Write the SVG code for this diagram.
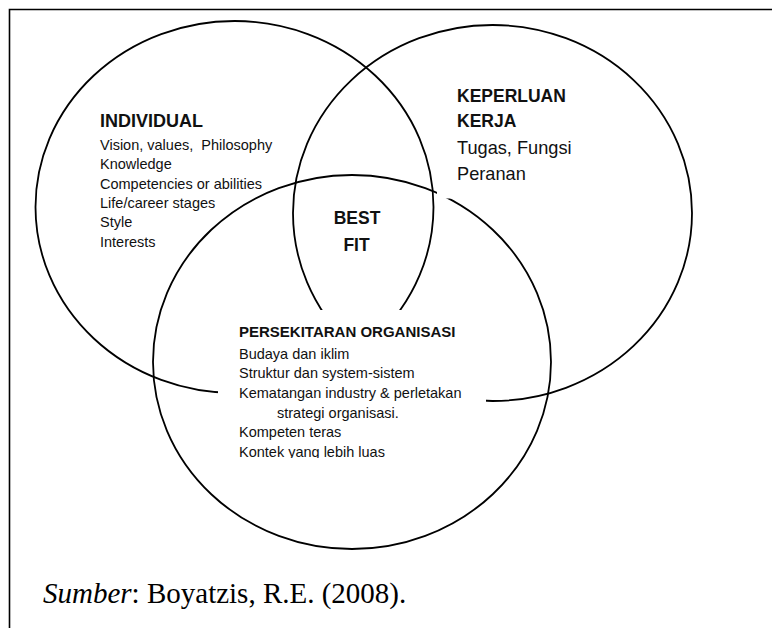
<svg xmlns="http://www.w3.org/2000/svg" width="772" height="628" viewBox="0 0 772 628">
<style>
.ell{fill:none;stroke:#000;stroke-width:1.8}
.box{fill:#fff;stroke:none}
.frame{fill:none;stroke:#000;stroke-width:1.6}
text{font-family:"Liberation Sans",Arial,sans-serif;fill:#111;white-space:pre}
.h{font-weight:bold}
.t{font-size:14.5px}
.src{font-family:"Liberation Serif","Times New Roman",serif;font-size:29px;fill:#000}
</style>
<defs>
<clipPath id="orgclip"><rect x="218" y="310" width="268" height="148"/></clipPath>
</defs>
<rect width="772" height="628" fill="#fff"/>
<path class="frame" d="M9.5,628 V9.5 H772"/>
<g id="circles">
<ellipse id="c-individual" class="ell" cx="234.5" cy="207" rx="199" ry="186"/>
<ellipse id="c-kerja" class="ell" cx="492.5" cy="213" rx="199.5" ry="188"/>
<ellipse id="c-organisasi" class="ell" cx="352" cy="362" rx="199" ry="187"/>
</g>
<g id="individual">
<text class="h" x="100" y="127" font-size="18">INDIVIDUAL</text>
<text class="t" x="100" y="150" xml:space="preserve">Vision, values,  Philosophy</text>
<text class="t" x="100" y="169.3">Knowledge</text>
<text class="t" x="100" y="188.7">Competencies or abilities</text>
<text class="t" x="100" y="208">Life/career stages</text>
<text class="t" x="100" y="227.3">Style</text>
<text class="t" x="100" y="246.7">Interests</text>
</g>
<g id="keperluan">
<rect class="box" x="437" y="75" width="183" height="123.5"/>
<text class="h" x="457" y="101.7" font-size="17.5">KEPERLUAN</text>
<text class="h" x="457" y="126.7" font-size="17.5">KERJA</text>
<text x="457" y="154" font-size="18.2">Tugas, Fungsi</text>
<text x="457" y="180" font-size="18.2">Peranan</text>
</g>
<g id="bestfit">
<text class="h" x="357" y="224" font-size="17.5" text-anchor="middle">BEST</text>
<text class="h" x="356.5" y="250.7" font-size="17.5" text-anchor="middle">FIT</text>
</g>
<g id="persekitaran">
<rect class="box" x="218" y="310" width="268" height="148"/>
<g clip-path="url(#orgclip)">
<text class="h" x="239" y="337" font-size="15">PERSEKITARAN ORGANISASI</text>
<text class="t" x="239" y="359.3">Budaya dan iklim</text>
<text class="t" x="239" y="378.3">Struktur dan system-sistem</text>
<text class="t" x="239" y="398.3">Kematangan industry &amp; perletakan</text>
<text class="t" x="277" y="417.7">strategi organisasi.</text>
<text class="t" x="239" y="437.3">Kompeten teras</text>
<text class="t" x="239" y="456.7">Kontek yang lebih luas</text>
</g>
</g>
<g id="source">
<text class="src" x="43" y="603"><tspan font-style="italic">Sumber</tspan>: Boyatzis, R.E. (2008).</text>
</g>
</svg>
